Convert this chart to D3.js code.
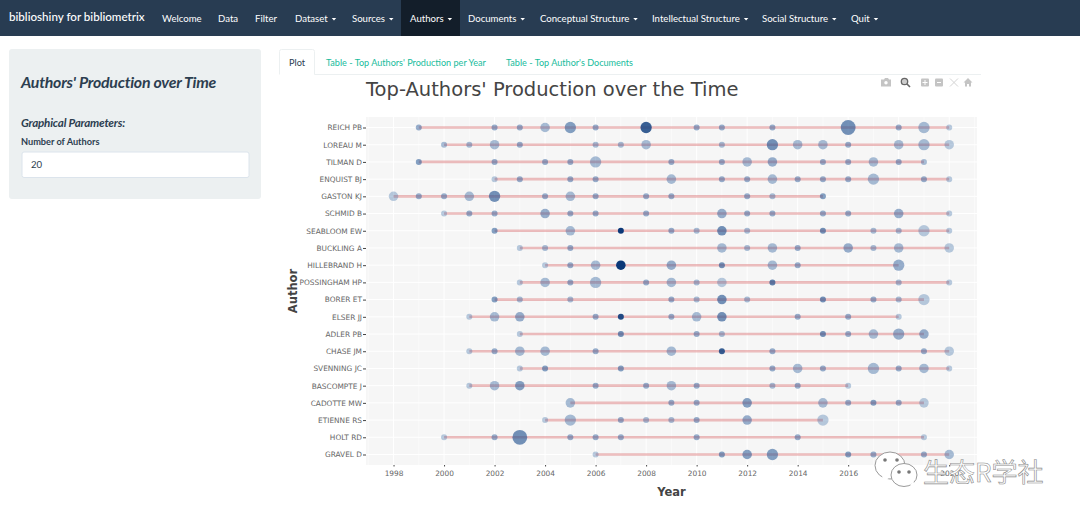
<!DOCTYPE html>
<html>
<head>
<meta charset="utf-8">
<script src="https://cdn.jsdelivr.net/npm/d3@7"></script>
<style>
  html, body { margin: 0; padding: 0; background: #fff; overflow: hidden; }
  svg { display: block; }
  .nav { font-family: Lato, sans-serif; font-size: 9.6px; fill: #fff; }
  .axis text { font-family: "DejaVu Sans", sans-serif; font-size: 7.4px; fill: #666; }
  .axis path { display: none; }
  .axis line { stroke: #444; }
</style>
</head>
<body>
<svg id="page" width="1080" height="519"></svg>
<script>
var authors = ["REICH PB", "LOREAU M", "TILMAN D", "ENQUIST BJ", "GASTON KJ", "SCHMID B", "SEABLOOM EW",
  "BUCKLING A", "HILLEBRAND H", "POSSINGHAM HP", "BORER ET", "ELSER JJ", "ADLER PB", "CHASE JM",
  "SVENNING JC", "BASCOMPTE J", "CADOTTE MW", "ETIENNE RS", "HOLT RD", "GRAVEL D"];

// publication years per author
var years = [
  [1999, 2002, 2003, 2004, 2005, 2006, 2008, 2010, 2011, 2013, 2016, 2018, 2019, 2020],
  [2000, 2001, 2002, 2003, 2006, 2007, 2008, 2011, 2013, 2014, 2015, 2016, 2018, 2019, 2020],
  [1999, 2002, 2004, 2005, 2006, 2009, 2011, 2012, 2013, 2015, 2016, 2017, 2018, 2019],
  [2002, 2003, 2005, 2006, 2009, 2011, 2012, 2013, 2014, 2015, 2016, 2017, 2019, 2020],
  [1998, 1999, 2000, 2001, 2002, 2004, 2005, 2006, 2008, 2009, 2012, 2013, 2015],
  [2000, 2001, 2002, 2004, 2005, 2006, 2008, 2011, 2012, 2013, 2015, 2016, 2018, 2020],
  [2002, 2005, 2007, 2009, 2010, 2011, 2012, 2015, 2017, 2018, 2019, 2020],
  [2003, 2004, 2005, 2011, 2012, 2013, 2014, 2016, 2017, 2018, 2020],
  [2004, 2005, 2006, 2007, 2009, 2011, 2013, 2014, 2018],
  [2003, 2004, 2005, 2006, 2008, 2009, 2010, 2011, 2013, 2018, 2020],
  [2002, 2003, 2005, 2009, 2010, 2011, 2012, 2015, 2017, 2018, 2019],
  [2001, 2002, 2003, 2006, 2007, 2009, 2010, 2011, 2014, 2016, 2018],
  [2003, 2007, 2010, 2011, 2015, 2016, 2017, 2018, 2019],
  [2001, 2002, 2003, 2004, 2006, 2009, 2011, 2013, 2019, 2020],
  [2003, 2004, 2007, 2013, 2014, 2015, 2017, 2018, 2019, 2020],
  [2001, 2002, 2003, 2006, 2008, 2009, 2010, 2013, 2014, 2016],
  [2005, 2009, 2010, 2012, 2015, 2016, 2017, 2018, 2019],
  [2004, 2005, 2007, 2008, 2009, 2010, 2012, 2015],
  [2000, 2002, 2003, 2005, 2006, 2007, 2010, 2014, 2019],
  [2006, 2011, 2012, 2013, 2016, 2017, 2019, 2020]
];

// articles per year, sets the marker size
var articles = [
  [1, 1, 1, 3, 4, 1, 4, 1, 1, 1, 6, 1, 4, 1],
  [1, 1, 3, 1, 1, 1, 3, 1, 4, 3, 3, 1, 3, 4, 3],
  [1, 1, 1, 1, 4, 1, 1, 3, 3, 1, 1, 3, 1, 1],
  [1, 1, 1, 1, 3, 1, 1, 3, 1, 1, 1, 4, 1, 1],
  [3, 1, 1, 3, 4, 1, 3, 1, 1, 1, 1, 1, 1],
  [1, 1, 1, 3, 1, 1, 1, 3, 1, 1, 1, 1, 3, 1],
  [1, 3, 1, 1, 1, 3, 1, 1, 1, 1, 4, 1],
  [1, 1, 1, 3, 1, 3, 1, 3, 1, 3, 3],
  [1, 1, 3, 3, 3, 1, 3, 1, 4],
  [1, 3, 1, 4, 1, 3, 1, 3, 1, 1, 1],
  [1, 1, 1, 1, 1, 3, 1, 1, 1, 1, 4],
  [1, 3, 3, 1, 1, 1, 3, 3, 1, 1, 1],
  [1, 1, 1, 1, 1, 1, 3, 4, 3],
  [1, 1, 3, 3, 1, 3, 1, 1, 1, 3],
  [1, 1, 1, 1, 3, 1, 4, 1, 3, 1],
  [1, 3, 3, 1, 1, 3, 1, 1, 1, 1],
  [3, 1, 1, 3, 3, 1, 1, 1, 3],
  [1, 4, 1, 1, 1, 1, 3, 4],
  [1, 1, 6, 1, 1, 1, 1, 1, 1],
  [1, 1, 3, 4, 1, 1, 1, 3]
];

// citations per year, sets the marker colour
var citations = [
  [3, 3, 3, 2, 4, 3, 8, 3, 3, 3, 5, 3, 2, 1],
  [2, 2, 2, 3, 2, 2, 2, 2, 5, 2, 2, 3, 2, 2, 1],
  [4, 3, 3, 3, 2, 3, 3, 2, 3, 3, 3, 2, 3, 2],
  [1, 3, 3, 3, 2, 3, 3, 2, 3, 3, 3, 2, 3, 1],
  [1, 3, 3, 2, 5, 3, 2, 3, 3, 3, 3, 2, 4],
  [1, 3, 3, 3, 3, 3, 3, 3, 3, 3, 3, 3, 3, 1],
  [4, 2, 10, 3, 2, 5, 2, 5, 2, 2, 1, 1],
  [1, 2, 3, 2, 2, 2, 3, 3, 2, 2, 1],
  [1, 3, 2, 10, 3, 5, 2, 3, 3],
  [1, 2, 3, 2, 3, 2, 2, 1, 6, 2, 1],
  [4, 2, 2, 3, 2, 5, 2, 5, 3, 2, 1],
  [1, 2, 3, 3, 9, 3, 2, 5, 3, 3, 1],
  [1, 5, 3, 2, 5, 3, 2, 3, 3],
  [1, 3, 2, 2, 3, 2, 8, 3, 3, 1],
  [1, 4, 4, 3, 2, 3, 2, 3, 2, 1],
  [1, 2, 4, 3, 3, 2, 3, 2, 3, 1],
  [2, 3, 3, 4, 2, 3, 4, 3, 1],
  [1, 2, 3, 2, 2, 3, 3, 1],
  [1, 3, 5, 3, 3, 3, 3, 3, 1],
  [1, 4, 4, 4, 4, 3, 3, 2]
];

var xTicks = d3.range(1998, 2021, 2);
var title = "Top-Authors' Production over the Time";

var navItems = ["Welcome", "Data", "Filter", "Dataset", "Sources", "Authors", "Documents",
  "Conceptual Structure", "Intellectual Structure", "Social Structure", "Quit"];
var navX = [162, 218, 255, 295, 352, 410, 468, 540, 652, 762, 851];
var navCaret = [0, 0, 0, 1, 1, 1, 1, 1, 1, 1, 1];
var tabs = ["Table - Top Authors' Production per Year", "Table - Top Author's Documents"];
var tabX = [326, 506];

var svg = d3.select("#page");

// ---- shiny page around the plot ----
svg.append("rect").attr("width", 1080).attr("height", 36).attr("fill", "#283c52");
svg.append("rect").attr("x", 401).attr("width", 59).attr("height", 36).attr("fill", "#131e2a");
svg.append("text").attr("class", "nav").attr("x", 9).attr("y", 21)
  .style("font-size", "11.6px").style("font-weight", 500)
  .text("biblioshiny for bibliometrix");

navItems.forEach(function(d, i) {
  var t = svg.append("text").attr("class", "nav").attr("x", navX[i]).attr("y", 21.5).text(d);
  if (navCaret[i]) {
    var end = navX[i] + t.node().getComputedTextLength() + 4;
    svg.append("path").attr("fill", "#fff")
      .attr("d", "M" + end + ",18h4.5l-2.25,2.4z");
  }
});

svg.append("rect").attr("x", 9).attr("y", 49).attr("width", 252).attr("height", 150)
  .attr("rx", 3).attr("fill", "#ecf0f1");
svg.append("text").attr("x", 21).attr("y", 88)
  .attr("font-family", "Lato").attr("font-style", "italic").attr("font-weight", 700)
  .attr("font-size", 15.9).attr("fill", "#2c3e50").attr("letter-spacing", -0.25)
  .text("Authors' Production over Time");
svg.append("text").attr("x", 21).attr("y", 127)
  .attr("font-family", "Lato").attr("font-style", "italic").attr("font-weight", 700)
  .attr("font-size", 11.6).attr("fill", "#2c3e50").attr("letter-spacing", -0.2)
  .text("Graphical Parameters:");
svg.append("text").attr("x", 21).attr("y", 145)
  .attr("font-family", "Lato").attr("font-weight", 700)
  .attr("font-size", 9.2).attr("fill", "#2c3e50")
  .text("Number of Authors");
svg.append("rect").attr("x", 22).attr("y", 152).attr("width", 227).attr("height", 25.5)
  .attr("rx", 2).attr("fill", "#fff").attr("stroke", "#dce4ec");
svg.append("text").attr("x", 31).attr("y", 168)
  .attr("font-family", "Lato").attr("font-size", 9.6).attr("fill", "#2c3e50").text("20");

svg.append("path").attr("fill", "none").attr("stroke", "#ecf0f1")
  .attr("d", "M279.5,74.5V51.5a2,2 0 0 1 2,-2H312.5a2,2 0 0 1 2,2V74.5H981");
svg.append("text").attr("x", 289).attr("y", 65.5)
  .attr("font-family", "Lato").attr("font-size", 9.2).attr("fill", "#2c3e50").text("Plot");
tabs.forEach(function(d, i) {
  svg.append("text").attr("x", tabX[i]).attr("y", 65.5)
    .attr("font-family", "Lato").attr("font-size", 9.1).attr("fill", "#18bc9c").text(d);
});

// ---- the chart ----
var panel = { left: 366, right: 977, top: 117, bottom: 465 };

var x = d3.scaleLinear().domain([1996.91, 2021.1]).range([panel.left, panel.right]);
var y = d3.scalePoint().domain(authors).range([127.5, 454.5]);
var r = d3.scaleLinear().domain([1, 6]).range([3, 7.4]);
var fill = d3.scaleLinear().domain([1, 10]).range(["#3a6ca6", "#0c3878"]);
var alpha = d3.scaleLinear().domain([1, 10]).range([0.35, 1]);

svg.append("text").attr("x", 366).attr("y", 96)
  .attr("font-family", "DejaVu Sans").attr("font-size", 19.5).attr("fill", "#444")
  .text(title);

svg.append("rect").attr("x", panel.left).attr("y", panel.top)
  .attr("width", panel.right - panel.left).attr("height", panel.bottom - panel.top)
  .attr("fill", "#f6f6f6");

var grid = svg.append("g").attr("stroke", "#fff").attr("fill", "none");
grid.selectAll(".minor").data(d3.range(1997, 2022, 2)).join("line").attr("class", "minor")
  .attr("x1", x).attr("x2", x).attr("y1", panel.top).attr("y2", panel.bottom)
  .attr("stroke-width", 0.5);
grid.selectAll(".major").data(xTicks).join("line").attr("class", "major")
  .attr("x1", x).attr("x2", x).attr("y1", panel.top).attr("y2", panel.bottom);
grid.selectAll(".row").data(authors).join("line").attr("class", "row")
  .attr("x1", panel.left).attr("x2", panel.right).attr("y1", y).attr("y2", y);

svg.append("g").attr("class", "axis")
  .attr("transform", "translate(" + panel.left + ",0)")
  .call(d3.axisLeft(y).tickSize(3).tickPadding(1));
svg.append("g").attr("class", "axis")
  .attr("transform", "translate(0," + panel.bottom + ")")
  .call(d3.axisBottom(x).tickValues(xTicks).tickFormat(d3.format("d")).tickSize(1.5).tickPadding(4));

var rows = svg.append("g").selectAll("g").data(authors).join("g");

rows.append("line")
  .attr("x1", function(a, i) { return x(d3.min(years[i])); })
  .attr("x2", function(a, i) { return x(d3.max(years[i])); })
  .attr("y1", y).attr("y2", y)
  .attr("stroke", "#c8282a").attr("stroke-opacity", 0.3).attr("stroke-width", 2.6);

rows.selectAll("circle")
  .data(function(a, i) {
    return years[i].map(function(yr, j) {
      return { author: a, year: yr, n: articles[i][j], tc: citations[i][j] };
    });
  })
  .join("circle")
  .attr("cx", function(d) { return x(d.year); })
  .attr("cy", function(d) { return y(d.author); })
  .attr("r", function(d) { return r(d.n); })
  .attr("fill", function(d) { return fill(d.tc); })
  .attr("fill-opacity", function(d) { return alpha(d.tc); });

svg.append("text").attr("x", 671.5).attr("y", 496).attr("text-anchor", "middle")
  .attr("font-family", "DejaVu Sans").attr("font-weight", 700).attr("font-size", 11.5)
  .attr("fill", "#444").text("Year");
svg.append("text").attr("transform", "translate(297,291) rotate(-90)").attr("text-anchor", "middle")
  .attr("font-family", "DejaVu Sans").attr("font-weight", 700).attr("font-size", 11.5)
  .attr("fill", "#444").text("Author");

// ---- plotly mode bar ----
var bar = svg.append("g").attr("fill", "#c4c4c4").attr("transform", "translate(0,-1.5)");
bar.append("path").attr("d", "M881,81h3l1,-1.5h3l1,1.5h2v7h-10z");
bar.append("circle").attr("cx", 886).attr("cy", 84.3).attr("r", 1.7).attr("fill", "#fff");
bar.append("circle").attr("cx", 904.5).attr("cy", 83).attr("r", 3.2)
  .attr("fill", "#ccc").attr("stroke", "#666").attr("stroke-width", 1.3);
bar.append("path").attr("d", "M907,85.5l3,3").attr("stroke", "#666").attr("stroke-width", 1.6);
bar.append("rect").attr("x", 921).attr("y", 80).attr("width", 8).attr("height", 8).attr("rx", 1);
bar.append("path").attr("d", "M925,81.5v5M922.5,84h5").attr("stroke", "#fff");
bar.append("rect").attr("x", 935).attr("y", 80).attr("width", 8).attr("height", 8).attr("rx", 1);
bar.append("path").attr("d", "M937,84h4").attr("stroke", "#fff");
bar.append("path").attr("d", "M950,80l8,8M958,80l-8,8").attr("stroke", "#d4d4d4").attr("fill", "none");
bar.append("path").attr("d", "M968,79.5l4.5,4.5h-1.5v4h-2v-2.5h-2v2.5h-2v-4h-1.5z");

// ---- watermark over the corner ----
var mark = svg.append("g").attr("fill", "#fff").attr("stroke", "#9a9a9a").attr("stroke-width", 1);
mark.append("ellipse").attr("cx", 890).attr("cy", 465.5).attr("rx", 15).attr("ry", 13.5);
mark.append("path").attr("d", "M882,475l1,7l6,-4z").attr("stroke", "none");
mark.append("ellipse").attr("cx", 904).attr("cy", 475).attr("rx", 13).attr("ry", 11.5);
mark.append("path").attr("d", "M910,484l4,5l0,-7z").attr("stroke", "none");
[[885, 460], [897, 460], [899, 472], [909, 472]].forEach(function(p) {
  mark.append("circle").attr("cx", p[0]).attr("cy", p[1]).attr("r", 1.8)
    .attr("fill", "#777").attr("stroke", "none");
});
svg.append("text").attr("x", 923).attr("y", 482)
  .attr("font-family", "Noto Sans CJK SC").attr("font-size", 26)
  .attr("fill", "#fff").attr("stroke", "#8a8a8a").attr("stroke-width", 0.6)
  .text("生态R学社");
</script>
</body>
</html>
